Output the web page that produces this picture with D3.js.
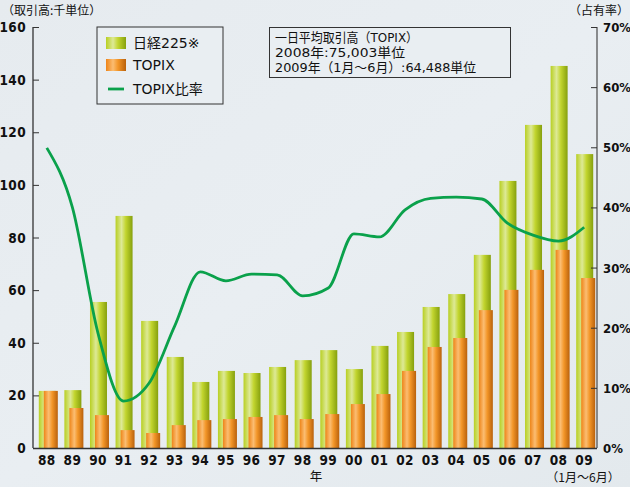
<!DOCTYPE html>
<html><head><meta charset="utf-8">
<script src="https://cdn.jsdelivr.net/npm/d3@7"></script>
<style>
html,body{margin:0;padding:0;background:#e7ecf0;}
svg{display:block;}
.num{font-family:"Liberation Sans Narrow","DejaVu Sans Condensed","Arial Narrow",sans-serif;font-weight:bold;font-size:13.5px;letter-spacing:0.4px;fill:#111;}
.jp{font-family:"Noto Sans CJK JP","Noto Sans",sans-serif;font-size:12.5px;fill:#111;}
.mix{font-family:"DejaVu Sans","Noto Sans CJK JP",sans-serif;fill:#111;}
</style></head>
<body>
<script>
const years = ["88","89","90","91","92","93","94","95","96","97","98","99","00","01","02","03","04","05","06","07","08","09"];
const nikkei = [21.7,22.0,55.5,88.2,48.3,34.6,25.1,29.3,28.5,30.8,33.4,37.2,30.0,38.8,44.1,53.6,58.5,73.4,101.5,122.8,145.2,111.7];
const topix = [21.7,15.2,12.5,6.8,5.7,8.7,10.6,11.0,11.8,12.5,11.0,12.9,16.7,20.5,29.3,38.4,41.8,52.4,60.1,67.7,75.3,64.6];
const share = [49.9,40.0,19.1,7.8,10.8,20.3,29.3,27.8,28.9,28.8,25.3,26.6,35.6,35.1,39.6,41.5,41.7,41.4,37.4,35.4,34.4,36.7];
const leftTicks = [0,20,40,60,80,100,120,140,160];
const rightTicks = [0,10,20,30,40,50,60,70];
const legendLabels = ["日経225※","TOPIX","TOPIX比率"];
const noteLines = ["一日平均取引高（TOPIX）","2008年:75,003単位","2009年（1月～6月）:64,488単位"];

const W=630,H=487;
const svg=d3.select("body").append("svg").attr("width",W).attr("height",H);
const defs=svg.append("defs");
function grad(id,stops){
  const g=defs.append("linearGradient").attr("id",id).attr("x1","0").attr("x2","1").attr("y1","0").attr("y2","0");
  stops.forEach(s=>g.append("stop").attr("offset",s[0]).attr("stop-color",s[1]));
}
grad("gG",[[0,"#b8cf22"],[0.35,"#dde996"],[0.6,"#c2d52e"],[1,"#86a00e"]]);
grad("gO",[[0,"#ee8418"],[0.35,"#fbbd72"],[0.6,"#f39628"],[1,"#b9610c"]]);
const bg=defs.append("linearGradient").attr("id","bg").attr("x1","0").attr("x2","1").attr("y1","0").attr("y2","1");
bg.append("stop").attr("offset",0).attr("stop-color","#e6ebef");
bg.append("stop").attr("offset",0.5).attr("stop-color","#e9eef2");
bg.append("stop").attr("offset",1).attr("stop-color","#e3e9ed");
svg.append("rect").attr("width",W).attr("height",H).attr("fill","url(#bg)");

const x=d3.scaleBand().domain(years).range([34,597]).paddingInner(0);
const y=d3.scaleLinear().domain([0,160]).range([448,27]);
const yr=d3.scaleLinear().domain([0,70]).range([448,27]);
const c=d=>x(d)+x.bandwidth()/2;

// bars
svg.append("g").selectAll("rect").data(years).join("rect")
  .attr("x",(d)=>c(d)-8).attr("width",17)
  .attr("y",(d,i)=>y(nikkei[i])).attr("height",(d,i)=>y(0)-y(nikkei[i]))
  .attr("fill","url(#gG)");
svg.append("g").selectAll("rect").data(years).join("rect")
  .attr("x",(d)=>c(d)-3).attr("width",14)
  .attr("y",(d,i)=>y(topix[i])).attr("height",(d,i)=>y(0)-y(topix[i]))
  .attr("fill","url(#gO)");

// line
const line=d3.line().x((d,i)=>c(years[i])).y(d=>yr(d)).curve(d3.curveMonotoneX);
svg.append("path").datum(share).attr("d",line).attr("fill","none")
  .attr("stroke","#0aa14b").attr("stroke-width",2.8).attr("stroke-linejoin","round");

// axes
const axL=svg.append("g").attr("transform","translate(33,0)")
  .call(d3.axisRight(y).tickValues(leftTicks).tickSize(6).tickFormat(""));
axL.select(".domain").attr("stroke","#333").attr("stroke-width",1.3).attr("d","M0,27V448");
axL.selectAll(".tick line").attr("stroke","#333");
svg.append("g").selectAll("text").data(leftTicks).join("text").attr("class","num")
  .attr("x",26).attr("y",d=>y(d)+5).attr("text-anchor","end").text(d=>d);

const axR=svg.append("g").attr("transform","translate(597,0)")
  .call(d3.axisLeft(yr).tickValues(rightTicks).tickSize(6).tickFormat(""));
axR.select(".domain").attr("stroke","#555").attr("stroke-width",1.3).attr("d","M0,27V448");
axR.selectAll(".tick line").attr("stroke","#333");
svg.append("g").selectAll("text").data(rightTicks).join("text").attr("class","num")
  .attr("x",603).attr("y",d=>yr(d)+5).attr("text-anchor","start")
  .style("font-size","13px").style("letter-spacing","0px").text(d=>d+"%");

svg.append("line").attr("x1",33).attr("x2",597).attr("y1",448.5).attr("y2",448.5).attr("stroke","#333").attr("stroke-width",1.3);
svg.append("g").selectAll("text").data(years).join("text").attr("class","num")
  .attr("x",d=>c(d)).attr("y",464.5).attr("text-anchor","middle").text(d=>d);

svg.append("text").attr("class","jp").attr("x",316).attr("y",481).attr("text-anchor","middle").text("年");
svg.append("text").attr("class","jp").attr("x",583).attr("y",482).attr("text-anchor","middle").style("font-size","12px").text("（1月～6月）");
svg.append("text").attr("class","jp").attr("x",2).attr("y",15).style("font-size","12px").text("（取引高:千単位）");
svg.append("text").attr("class","jp").attr("x",629).attr("y",15).attr("text-anchor","end").style("font-size","12px").text("（占有率）");

// legend
const lg=svg.append("g");
lg.append("rect").attr("x",97).attr("y",27).attr("width",126).attr("height",77).attr("fill","#e9eef2").attr("stroke","#333").attr("stroke-width",1);
lg.append("rect").attr("x",106).attr("y",37).attr("width",20).attr("height",12).attr("fill","url(#gG)");
lg.append("rect").attr("x",106).attr("y",59).attr("width",20).attr("height",12).attr("fill","url(#gO)");
lg.append("line").attr("x1",108).attr("x2",124).attr("y1",89).attr("y2",89).attr("stroke","#0aa14b").attr("stroke-width",2.8);
lg.selectAll("text.l").data(legendLabels).join("text").attr("class","mix")
  .attr("x",133).attr("y",(d,i)=>[48,70,94][i]).style("font-size","14px").text(d=>d);

// note
const nt=svg.append("g");
nt.append("rect").attr("x",269.5).attr("y",27.5).attr("width",241).attr("height",50).attr("fill","#e9eef2").attr("stroke","#333").attr("stroke-width",1);
const noteLen=[143,130,201];
nt.selectAll("text").data(noteLines).join("text").attr("class","mix")
  .attr("x",275).attr("y",(d,i)=>42+i*15).style("font-size","13px")
  .attr("textLength",(d,i)=>noteLen[i]).attr("lengthAdjust","spacingAndGlyphs").text(d=>d);
</script>
</body></html>
